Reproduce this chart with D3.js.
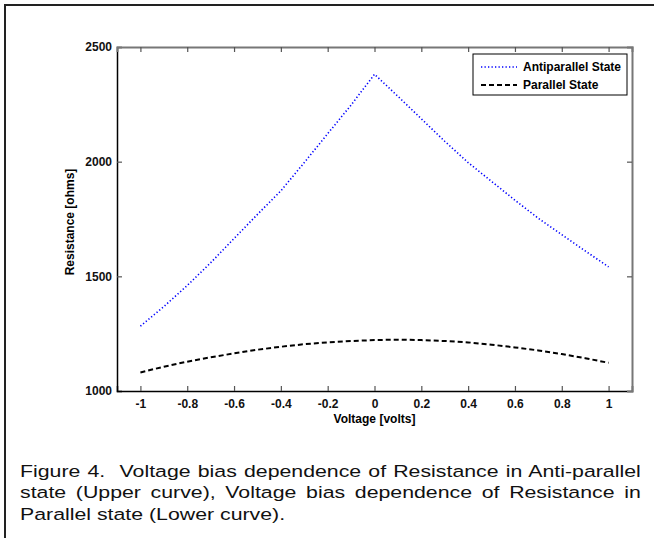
<!DOCTYPE html>
<html>
<head>
<meta charset="utf-8">
<script src="https://cdn.jsdelivr.net/npm/d3@7"></script>
<style>
  html, body { margin: 0; padding: 0; background: #fff; }
  svg { display: block; }
</style>
</head>
<body>
<svg id="chart" width="654" height="538"></svg>
<script>
// ---- data ----
const voltage = [-1.0, -0.9, -0.8, -0.7, -0.6, -0.5, -0.4, -0.3, -0.2, -0.1, 0.0,
                 0.1, 0.2, 0.3, 0.4, 0.5, 0.6, 0.7, 0.8, 0.9, 1.0];
const antiparallel = [1283, 1368, 1460, 1559, 1665, 1770, 1873, 1996, 2122, 2247, 2381,
                      2285, 2187, 2089, 1996, 1914, 1832, 1753, 1682, 1611, 1541];
const parallel = [1081, 1106, 1128, 1147, 1164, 1180, 1193, 1204, 1212, 1218, 1222,
                  1224, 1222, 1218, 1212, 1202, 1190, 1177, 1161, 1143, 1123];
const xTicks = [-1, -0.8, -0.6, -0.4, -0.2, 0, 0.2, 0.4, 0.6, 0.8, 1];
const yTicks = [1000, 1500, 2000, 2500];
const seriesNames = ["Antiparallel State", "Parallel State"];
const xLabel = "Voltage [volts]";
const yLabel = "Resistance [ohms]";
const captionLines = [
  "Figure 4.  Voltage bias dependence of Resistance in Anti-parallel",
  "state (Upper curve), Voltage bias dependence of Resistance in",
  "Parallel state (Lower curve)."
];

// ---- layout ----
const svg = d3.select("#chart");
const L = 117, R = 632, T = 47, B = 391;
const x = d3.scaleLinear().domain([-1.1, 1.1]).range([L, R]);
const y = d3.scaleLinear().domain([1000, 2500]).range([B, T]);
const axisFont = "Arial, 'Liberation Sans', sans-serif";

// outer frame
svg.append("rect").attr("x", 5).attr("y", 5).attr("width", 700).attr("height", 600)
  .attr("fill", "none").attr("stroke", "#222").attr("stroke-width", 2);

// plot area background
svg.append("rect").attr("x", L).attr("y", T).attr("width", R - L).attr("height", B - T)
  .attr("fill", "#fff");

// axes
const fmt = d => (d === 0 ? "0" : String(d));
const gx = svg.append("g").attr("transform", `translate(0,${B})`)
  .call(d3.axisBottom(x).tickValues(xTicks).tickSize(-5).tickPadding(8).tickFormat(fmt));
const gy = svg.append("g").attr("transform", `translate(${L},0)`)
  .call(d3.axisLeft(y).tickValues(yTicks).tickSize(-5).tickPadding(5).tickFormat(d3.format("d")));
const gxt = svg.append("g").attr("transform", `translate(0,${T})`)
  .call(d3.axisTop(x).tickValues(xTicks).tickSize(-5).tickFormat(""));
const gyr = svg.append("g").attr("transform", `translate(${R},0)`)
  .call(d3.axisRight(y).tickValues(yTicks).tickSize(-5).tickFormat(""));

[gx, gy].forEach(g => {
  g.select(".domain").attr("stroke", "#000").attr("stroke-width", 1.5);
  g.selectAll(".tick line").attr("stroke", "#555").attr("stroke-width", 1.2);
  g.selectAll("text").attr("font-family", axisFont).attr("font-size", 12)
    .attr("font-weight", "bold").attr("fill", "#111");
});
[gxt, gyr].forEach(g => {
  g.select(".domain").attr("stroke", "#777").attr("stroke-width", 2);
  g.selectAll(".tick line").attr("stroke", "#555").attr("stroke-width", 1.2);
});
gy.selectAll(".tick").filter(d => d === 2500 || d === 1000).select("line").remove();
gyr.selectAll(".tick").filter(d => d === 2500 || d === 1000).select("line").remove();

// axis labels
svg.append("text").attr("x", (L + R) / 2).attr("y", 423).attr("text-anchor", "middle")
  .attr("font-family", axisFont).attr("font-size", 12).attr("font-weight", "bold")
  .text(xLabel);
svg.append("text").attr("transform", `translate(74,${(T + B) / 2 + 3}) rotate(-90)`)
  .attr("text-anchor", "middle")
  .attr("font-family", axisFont).attr("font-size", 12).attr("font-weight", "bold")
  .text(yLabel);

// lines
const line = d3.line().x((d, i) => x(voltage[i])).y(d => y(d));
svg.append("path").datum(antiparallel).attr("d", line).attr("fill", "none")
  .attr("stroke", "#0000ff").attr("stroke-width", 1.6).attr("stroke-dasharray", "1.3,2.2");
svg.append("path").datum(parallel).attr("d", line).attr("fill", "none")
  .attr("stroke", "#000").attr("stroke-width", 2).attr("stroke-dasharray", "5,3");

// legend
const lg = svg.append("g");
lg.append("rect").attr("x", 473).attr("y", 54).attr("width", 154).attr("height", 41)
  .attr("fill", "#fff").attr("stroke", "#000").attr("stroke-width", 1);
const styles = [
  { stroke: "#0000ff", w: 1.6, dash: "1.3,2.2" },
  { stroke: "#000", w: 2, dash: "5,3" }
];
seriesNames.forEach((n, i) => {
  const yy = 67 + i * 18;
  lg.append("line").attr("x1", 481).attr("x2", 517).attr("y1", yy).attr("y2", yy)
    .attr("stroke", styles[i].stroke).attr("stroke-width", styles[i].w)
    .attr("stroke-dasharray", styles[i].dash);
  lg.append("text").attr("x", 523).attr("y", yy + 4)
    .attr("font-family", axisFont).attr("font-size", 12).attr("font-weight", "bold")
    .text(n);
});

// caption: slightly wide glyphs, justified by word spacing
const capLeft = 20, capWidth = 621, firstLineNatural = 610, fontSize = 17;
const capTexts = captionLines.map((t, i) =>
  svg.append("text").attr("y", 477 + i * 21.5)
    .attr("font-family", axisFont).attr("font-size", fontSize).attr("fill", "#111")
    .style("white-space", "pre")
    .text(t));
const natural = capTexts.map(s => s.node().getComputedTextLength());
const sx = firstLineNatural / natural[0];
capTexts.forEach((s, i) => {
  s.attr("transform", `scale(${sx},1)`).attr("x", capLeft / sx);
  if (i < 2) {
    const spaces = (captionLines[i].match(/ /g) || []).length;
    const extra = capWidth / sx - natural[i];
    s.attr("word-spacing", extra / spaces);
  }
});
</script>
</body>
</html>
